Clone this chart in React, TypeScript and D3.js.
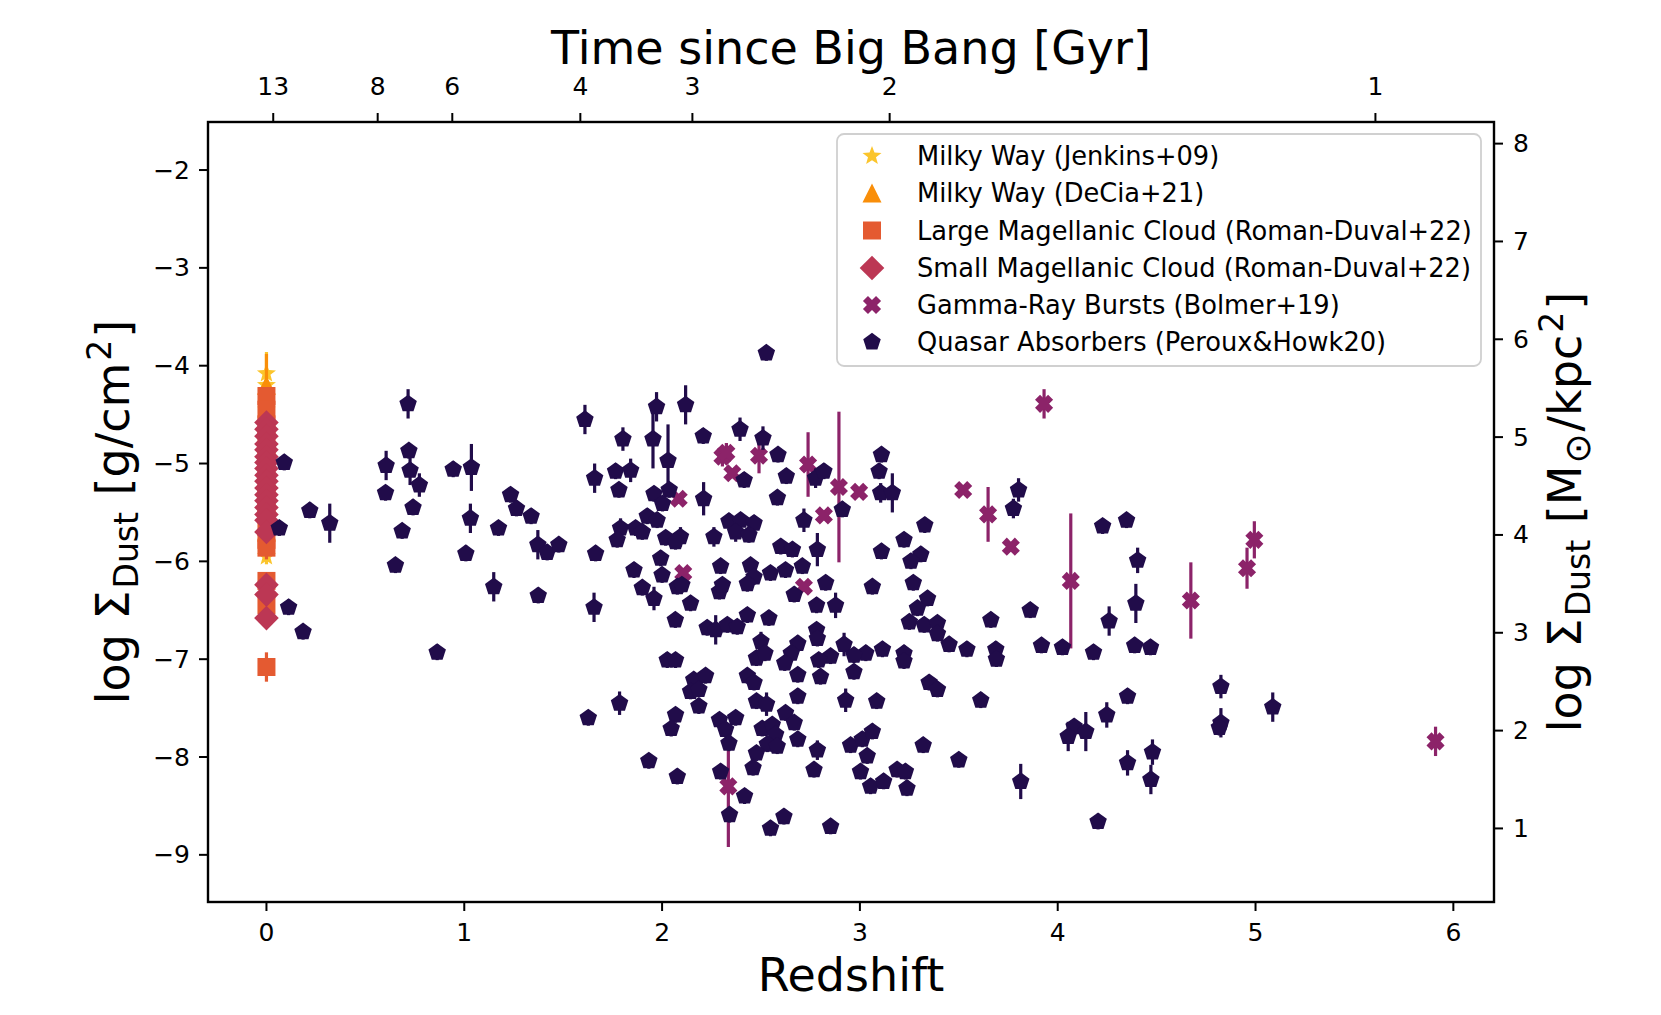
import * as d3 from "d3";

// [redshift, log Sigma_dust (g/cm^2), error] ; optional 4th = lower error
type Pt = number[];

const milkyWayJenkins: Pt[] = [
  [0, -4.08, 0.22], [0, -4.2, 0.1], [0, -4.45, 0.1], [0, -4.7, 0.1], [0, -4.95, 0.1],
  [0, -5.2, 0.1], [0, -5.45, 0.1], [0, -5.7, 0.1], [0, -5.95, 0.08],
];
const milkyWayDeCia: Pt[] = [
  [0, -4.2, 0.32], [0, -4.5, 0.1], [0, -4.8, 0.1], [0, -5.1, 0.1], [0, -5.4, 0.1], [0, -5.7, 0.1],
];
const lmc: Pt[] = [
  [0, -4.31, 0.08], [0, -4.45, 0.08], [0, -4.6, 0.08], [0, -4.75, 0.08], [0, -4.9, 0.08],
  [0, -5.05, 0.08], [0, -5.2, 0.08], [0, -5.35, 0.08], [0, -5.5, 0.08], [0, -5.65, 0.08],
  [0, -5.78, 0.08], [0, -5.86, 0.12], [0, -6.2, 0.08], [0, -6.45, 0.08], [0, -7.08, 0.15],
];
const smc: Pt[] = [
  [0, -4.58, 0.08], [0, -4.65, 0.08], [0, -4.72, 0.08], [0, -4.8, 0.08], [0, -4.86, 0.08],
  [0, -4.93, 0.08], [0, -4.99, 0.08], [0, -5.05, 0.08], [0, -5.12, 0.08], [0, -5.18, 0.08],
  [0, -5.25, 0.08], [0, -5.32, 0.08], [0, -5.38, 0.08], [0, -5.45, 0.08], [0, -5.52, 0.08],
  [0, -5.58, 0.08], [0, -5.7, 0.08], [0, -6.24, 0.08], [0, -6.34, 0.08], [0, -6.58, 0.08],
];
const gammaRayBursts: Pt[] = [
  [2.305, -4.93, 0.1], [2.325, -4.89, 0.1], [2.355, -5.1, 0.05], [2.49, -4.92, 0.18],
  [2.084, -5.36, 0.05], [2.107, -6.12, 0.05], [2.335, -8.3, 0.37, 0.62],
  [2.738, -5.01, 0.33], [2.894, -5.24, 0.77], [2.996, -5.29, 0.05], [2.818, -5.53, 0.05],
  [2.717, -6.26, 0.05], [3.522, -5.27, 0.05], [3.648, -5.52, 0.28], [3.931, -4.39, 0.15],
  [3.763, -5.85, 0.05], [4.066, -6.2, 0.69], [4.673, -6.4, 0.39], [4.994, -5.78, 0.19],
  [4.957, -6.07, 0.21], [5.91, -7.84, 0.15],
];
const quasarAbsorbers: Pt[] = [
  [0.09, -4.99, 0.08], [0.219, -5.48, 0.08], [0.32, -5.61, 0.2], [0.065, -5.66, 0.08],
  [0.112, -6.47, 0.08], [0.185, -6.72, 0.08], [0.716, -4.39, 0.15], [0.72, -4.87, 0.08],
  [0.605, -5.02, 0.15], [0.726, -5.07, 0.15], [0.773, -5.22, 0.12], [0.602, -5.3, 0.08],
  [0.741, -5.45, 0.08], [0.686, -5.69, 0.08], [0.652, -6.04, 0.08], [0.944, -5.06, 0.08],
  [1.036, -5.04, 0.24], [0.863, -6.93, 0.08], [1.031, -5.56, 0.15], [1.008, -5.92, 0.08],
  [1.234, -5.32, 0.08], [1.264, -5.46, 0.08], [1.338, -5.54, 0.08], [1.173, -5.66, 0.08],
  [1.372, -5.83, 0.15], [1.419, -5.91, 0.08], [1.478, -5.83, 0.08], [1.149, -6.26, 0.15],
  [1.374, -6.35, 0.08], [1.61, -4.55, 0.15], [1.659, -5.15, 0.15], [1.664, -5.92, 0.08],
  [1.656, -6.47, 0.15], [1.627, -7.6, 0.08],
  [2.527, -3.87, 0.08], [1.972, -4.42, 0.15], [2.119, -4.4, 0.2], [1.802, -4.75, 0.12],
  [1.954, -4.75, 0.3], [2.03, -4.97, 0.37], [2.208, -4.72, 0.08], [2.394, -4.65, 0.12],
  [2.51, -4.74, 0.12], [2.586, -4.91, 0.08], [2.415, -5.17, 0.08], [2.628, -5.13, 0.08],
  [2.583, -5.35, 0.08], [1.765, -5.08, 0.08], [1.841, -5.07, 0.12], [1.782, -5.27, 0.08],
  [1.959, -5.31, 0.08], [2.036, -5.27, 0.08], [2.002, -5.41, 0.08], [2.21, -5.36, 0.17],
  [1.925, -5.54, 0.08], [1.975, -5.58, 0.08], [1.79, -5.66, 0.1], [1.866, -5.66, 0.08],
  [1.9, -5.7, 0.08], [1.773, -5.78, 0.08], [2.018, -5.76, 0.08], [2.093, -5.75, 0.1],
  [2.068, -5.8, 0.08], [2.262, -5.75, 0.1], [2.338, -5.59, 0.08], [2.397, -5.58, 0.08],
  [2.465, -5.61, 0.08], [2.372, -5.7, 0.1], [2.439, -5.73, 0.08], [2.6, -5.85, 0.08],
  [2.659, -5.88, 0.08], [1.993, -5.97, 0.08], [1.858, -6.09, 0.08], [2.0, -6.14, 0.08],
  [2.296, -6.05, 0.08], [2.447, -6.04, 0.08], [2.465, -6.16, 0.08], [2.548, -6.12, 0.08],
  [2.624, -6.09, 0.08], [2.431, -6.23, 0.08], [1.9, -6.27, 0.08], [1.959, -6.38, 0.12],
  [2.077, -6.26, 0.08], [2.1, -6.24, 0.08], [2.29, -6.31, 0.08], [2.305, -6.24, 0.08],
  [2.144, -6.43, 0.08], [2.668, -6.34, 0.08], [2.067, -6.6, 0.08], [2.228, -6.68, 0.08],
  [2.271, -6.7, 0.15], [2.33, -6.65, 0.08], [2.38, -6.67, 0.08], [2.431, -6.55, 0.08],
  [2.54, -6.58, 0.08], [2.5, -6.82, 0.1], [2.477, -6.99, 0.08], [2.52, -6.94, 0.08],
  [2.686, -6.84, 0.08], [2.653, -6.94, 0.08], [2.62, -7.04, 0.08], [2.026, -7.01, 0.08],
  [2.068, -7.01, 0.08], [2.16, -7.21, 0.08], [2.22, -7.17, 0.08], [2.144, -7.33, 0.08],
  [2.186, -7.31, 0.08], [2.186, -7.48, 0.08], [2.431, -7.17, 0.08], [2.465, -7.24, 0.08],
  [2.686, -7.16, 0.08], [2.686, -7.38, 0.08], [2.477, -7.43, 0.08], [2.528, -7.46, 0.12],
  [2.624, -7.55, 0.08], [2.668, -7.65, 0.08], [1.785, -7.45, 0.12], [2.068, -7.57, 0.08],
  [2.046, -7.71, 0.08], [2.29, -7.62, 0.08], [2.372, -7.6, 0.08], [2.321, -7.72, 0.08],
  [2.338, -7.86, 0.08], [2.506, -7.71, 0.08], [2.557, -7.67, 0.08], [2.574, -7.77, 0.08],
  [2.532, -7.87, 0.08], [2.582, -7.89, 0.08], [2.477, -7.96, 0.08], [2.46, -8.11, 0.08],
  [2.686, -7.82, 0.08], [1.933, -8.04, 0.08], [2.077, -8.2, 0.08], [2.296, -8.15, 0.08],
  [2.417, -8.4, 0.08], [2.341, -8.59, 0.08], [2.548, -8.73, 0.08], [2.616, -8.61, 0.08],
  [3.109, -4.91, 0.08], [3.097, -5.08, 0.08], [3.105, -5.3, 0.1], [3.164, -5.3, 0.2],
  [2.776, -5.15, 0.1], [2.818, -5.08, 0.08], [2.911, -5.47, 0.08], [2.717, -5.58, 0.12],
  [3.328, -5.63, 0.08], [3.223, -5.78, 0.08], [3.109, -5.9, 0.08], [3.308, -5.93, 0.08],
  [3.258, -6.0, 0.08], [2.785, -5.88, 0.17], [2.709, -6.05, 0.08], [2.827, -6.22, 0.08],
  [3.063, -6.26, 0.08], [3.27, -6.22, 0.08], [2.781, -6.45, 0.08], [2.877, -6.45, 0.13],
  [3.342, -6.38, 0.08], [3.291, -6.48, 0.08], [3.25, -6.62, 0.08], [3.325, -6.65, 0.08],
  [3.392, -6.63, 0.08], [3.392, -6.74, 0.08], [3.451, -6.85, 0.08], [3.541, -6.9, 0.08],
  [3.662, -6.6, 0.08], [3.687, -6.9, 0.08], [2.781, -6.7, 0.08], [2.785, -6.79, 0.08],
  [2.92, -6.85, 0.12], [3.03, -6.94, 0.08], [3.114, -6.9, 0.08], [3.223, -6.94, 0.08],
  [3.223, -7.02, 0.08], [2.97, -6.96, 0.08], [2.852, -6.97, 0.08], [2.792, -7.01, 0.08],
  [2.801, -7.18, 0.08], [2.97, -7.13, 0.08], [3.35, -7.24, 0.08], [3.392, -7.31, 0.08],
  [3.611, -7.42, 0.08], [2.928, -7.42, 0.12], [3.085, -7.43, 0.08], [2.785, -7.93, 0.1],
  [2.768, -8.13, 0.08], [2.953, -7.88, 0.08], [3.012, -7.82, 0.08], [3.063, -7.74, 0.08],
  [3.037, -7.99, 0.08], [3.003, -8.15, 0.08], [3.054, -8.3, 0.08], [3.12, -8.25, 0.08],
  [3.188, -8.13, 0.08], [3.23, -8.15, 0.08], [3.238, -8.32, 0.08], [3.32, -7.88, 0.08],
  [3.5, -8.03, 0.08], [2.852, -8.71, 0.08],
  [3.802, -5.27, 0.12], [3.776, -5.46, 0.1], [4.227, -5.64, 0.08], [4.348, -5.58, 0.08],
  [4.404, -5.99, 0.13], [4.395, -6.43, 0.2], [4.26, -6.61, 0.15], [3.861, -6.5, 0.08],
  [3.69, -7.0, 0.08], [3.918, -6.86, 0.08], [4.024, -6.88, 0.08], [4.181, -6.93, 0.08],
  [4.389, -6.86, 0.08], [4.469, -6.88, 0.08], [4.353, -7.38, 0.08], [4.248, -7.57, 0.13],
  [4.083, -7.69, 0.08], [4.053, -7.79, 0.15], [4.142, -7.74, 0.2], [4.825, -7.28, 0.12],
  [4.825, -7.65, 0.15], [4.817, -7.7, 0.08], [4.479, -7.95, 0.13], [4.471, -8.23, 0.15],
  [4.353, -8.06, 0.13], [3.813, -8.25, 0.18], [4.204, -8.66, 0.08], [5.087, -7.49, 0.15],
];

const leftTicks = [-9, -8, -7, -6, -5, -4, -3, -2];
const rightTicks = [1, 2, 3, 4, 5, 6, 7, 8];
const bottomTicks = [0, 1, 2, 3, 4, 5, 6];
const ageTicks = [13, 8, 6, 4, 3, 2, 1]; // Gyr
const unitOffset = 9.73; // log(g/cm^2) -> log(Msun/kpc^2)

// flat LCDM, H0=70, Om=0.3: redshift at which the universe had age t
const omM = 0.3;
const omL = 0.7;
const tau = (2 * (977.8 / 70)) / (3 * Math.sqrt(omL));
const zAtAge = (t: number) =>
  Math.pow(Math.sinh(t / tau) / Math.sqrt(omL / omM), -2 / 3) - 1;

const colors = {
  jenkins: "#fbc52c",
  decia: "#f98e09",
  lmc: "#e45a31",
  smc: "#bc3754",
  grb: "#8c2369",
  qso: "#210c4a",
};

const fontFamily = "DejaVu Sans, sans-serif";

const polygon = (pts: number[][]) => "M" + pts.map((p) => p.join(",")).join("L") + "Z";

const pentagonPath = (r: number) =>
  polygon(d3.range(5).map((k) => {
    const a = -Math.PI / 2 + (k * 2 * Math.PI) / 5;
    return [r * Math.cos(a), r * Math.sin(a)];
  }));

const starPath = (r: number) =>
  polygon(d3.range(10).map((k) => {
    const a = -Math.PI / 2 + (k * Math.PI) / 5;
    const rr = k % 2 === 0 ? r : r * 0.42;
    return [rr * Math.cos(a), rr * Math.sin(a)];
  }));

const trianglePath = (h: number) => polygon([[0, -h], [-h, h], [h, h]]);
const squarePath = (h: number) => polygon([[-h, -h], [h, -h], [h, h], [-h, h]]);
const diamondPath = (h: number) => polygon([[0, -h], [h, 0], [0, h], [-h, 0]]);
const xPath = (s: number) => {
  const L = s / 2;
  const w = s / 5.2;
  const plus = [
    [-w, -L], [w, -L], [w, -w], [L, -w], [L, w], [w, w],
    [w, L], [-w, L], [-w, w], [-L, w], [-L, -w], [-w, -w],
  ];
  const c = Math.SQRT1_2;
  return polygon(plus.map(([px, py]) => [c * (px - py), c * (px + py)]));
};

const series = [
  { name: "Milky Way (Jenkins+09)", data: milkyWayJenkins, color: colors.jenkins, path: starPath(10) },
  { name: "Milky Way (DeCia+21)", data: milkyWayDeCia, color: colors.decia, path: trianglePath(9.5) },
  { name: "Large Magellanic Cloud (Roman-Duval+22)", data: lmc, color: colors.lmc, path: squarePath(9) },
  { name: "Small Magellanic Cloud (Roman-Duval+22)", data: smc, color: colors.smc, path: diamondPath(12.3) },
  { name: "Gamma-Ray Bursts (Bolmer+19)", data: gammaRayBursts, color: colors.grb, path: xPath(18.5) },
  { name: "Quasar Absorbers (Peroux&Howk20)", data: quasarAbsorbers, color: colors.qso, path: pentagonPath(9.2) },
];

export default function App() {
  const W = 1661;
  const H = 1015;
  const box = { left: 208, right: 1494, top: 122, bottom: 902 };

  const x = d3.scaleLinear().domain([-0.2955, 6.2055]).range([box.left, box.right]);
  const y = d3.scaleLinear().domain([-9.482, -1.509]).range([box.bottom, box.top]);

  const tickLen = 9;
  const tickFont = 25;
  const labelFont = 46;
  const subFont = 33;
  const midX = (box.left + box.right) / 2;
  const midY = (box.top + box.bottom) / 2;
  const minus = (v: number) => (v < 0 ? "\u2212" + Math.abs(v) : String(v));

  const legend = { x: 837, y: 134, w: 644, h: 232, rowY: [156, 193, 230.5, 268, 305, 342] };

  return (
    <div style={{ position: "absolute", left: 0, top: 0 }}>
      <svg width={W} height={H} viewBox={`0 0 ${W} ${H}`} style={{ display: "block", background: "#fff" }}>
        <defs>
          <clipPath id="plot-clip">
            <rect x={box.left} y={box.top} width={box.right - box.left} height={box.bottom - box.top} />
          </clipPath>
        </defs>

        {/* data */}
        <g clipPath="url(#plot-clip)">
          {series.map((s) => (
            <g key={s.name}>
              {s.data.map((d, i) => {
                const up = d[2];
                const lo = d.length > 3 ? d[3] : d[2];
                return (
                  <line key={i} x1={x(d[0])} x2={x(d[0])} y1={y(d[1] + up)} y2={y(d[1] - lo)}
                    stroke={s.color} strokeWidth={3.2} />
                );
              })}
              {s.data.map((d, i) => (
                <path key={"m" + i} d={s.path} transform={`translate(${x(d[0])},${y(d[1])})`} fill={s.color} />
              ))}
            </g>
          ))}
        </g>

        {/* frame */}
        <rect x={box.left} y={box.top} width={box.right - box.left} height={box.bottom - box.top}
          fill="none" stroke="#000" strokeWidth={2.4} />

        {/* bottom axis */}
        {bottomTicks.map((t) => (
          <g key={"b" + t}>
            <line x1={x(t)} x2={x(t)} y1={box.bottom} y2={box.bottom + tickLen} stroke="#000" strokeWidth={2} />
            <text x={x(t)} y={932.5} fontSize={tickFont} fontFamily={fontFamily} textAnchor="middle" dominantBaseline="central">{t}</text>
          </g>
        ))}
        <text x={midX} y={975} fontSize={labelFont} fontFamily={fontFamily} textAnchor="middle" dominantBaseline="central">Redshift</text>

        {/* top axis: age */}
        {ageTicks.map((t) => (
          <g key={"t" + t}>
            <line x1={x(zAtAge(t))} x2={x(zAtAge(t))} y1={box.top} y2={box.top - tickLen} stroke="#000" strokeWidth={2} />
            <text x={x(zAtAge(t))} y={86.5} fontSize={tickFont} fontFamily={fontFamily} textAnchor="middle" dominantBaseline="central">{t}</text>
          </g>
        ))}
        <text x={midX} y={48} fontSize={labelFont} fontFamily={fontFamily} textAnchor="middle" dominantBaseline="central">Time since Big Bang [Gyr]</text>

        {/* left axis */}
        {leftTicks.map((t) => (
          <g key={"l" + t}>
            <line x1={box.left} x2={box.left - tickLen} y1={y(t)} y2={y(t)} stroke="#000" strokeWidth={2} />
            <text x={190} y={y(t)} fontSize={tickFont} fontFamily={fontFamily} textAnchor="end" dominantBaseline="central">{minus(t)}</text>
          </g>
        ))}
        <text transform={`translate(129,${midY}) rotate(-90)`} fontSize={labelFont} fontFamily={fontFamily} textAnchor="middle">
          <tspan>log Σ</tspan>
          <tspan fontSize={subFont} dx={2} dy={9}>Dust</tspan>
          <tspan dx={2} dy={-9}> [g/cm</tspan>
          <tspan fontSize={subFont} dx={2} dy={-18}>2</tspan>
          <tspan dx={2} dy={18}>]</tspan>
        </text>

        {/* right axis */}
        {rightTicks.map((t) => (
          <g key={"r" + t}>
            <line x1={box.right} x2={box.right + tickLen} y1={y(t - unitOffset)} y2={y(t - unitOffset)} stroke="#000" strokeWidth={2} />
            <text x={1513} y={y(t - unitOffset)} fontSize={tickFont} fontFamily={fontFamily} dominantBaseline="central">{t}</text>
          </g>
        ))}
        <text transform={`translate(1581,${midY}) rotate(-90)`} fontSize={labelFont} fontFamily={fontFamily} textAnchor="middle">
          <tspan>log Σ</tspan>
          <tspan fontSize={subFont} dx={2} dy={9}>Dust</tspan>
          <tspan dx={2} dy={-9}> [M</tspan>
          <tspan fontSize={subFont + 3} dx={2} dy={9}>⊙</tspan>
          <tspan dx={2} dy={-9}>/kpc</tspan>
          <tspan fontSize={subFont} dx={2} dy={-18}>2</tspan>
          <tspan dx={2} dy={18}>]</tspan>
        </text>

        {/* legend */}
        <rect x={legend.x} y={legend.y} width={legend.w} height={legend.h} rx={7}
          fill="#fff" fillOpacity={0.8} stroke="#d0d0d0" strokeWidth={1.8} />
        {series.map((s, i) => (
          <g key={"lg" + s.name}>
            <path d={s.path} transform={`translate(872,${legend.rowY[i]})`} fill={s.color} />
            <text x={917} y={legend.rowY[i]} fontSize={25.7} fontFamily={fontFamily} dominantBaseline="central">{s.name}</text>
          </g>
        ))}
      </svg>
    </div>
  );
}
